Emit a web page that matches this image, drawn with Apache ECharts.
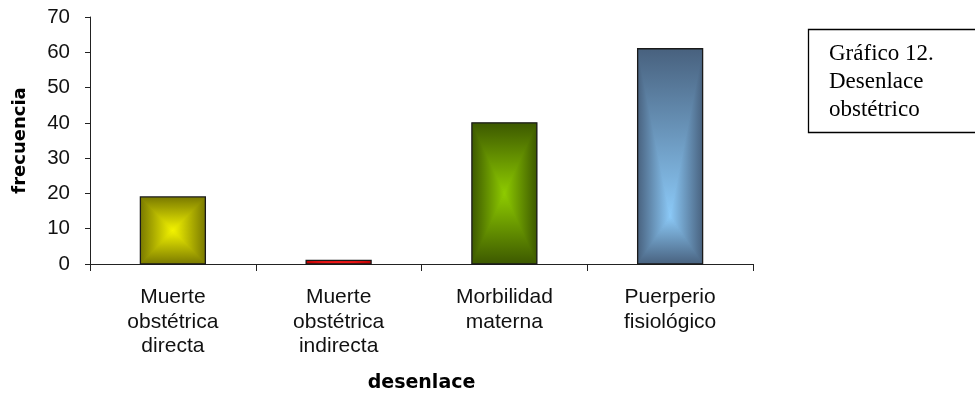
<!DOCTYPE html>
<html>
<head>
<meta charset="utf-8">
<script src="https://cdn.jsdelivr.net/npm/echarts@6/dist/echarts.min.js"></script>
<style>
  html, body { margin: 0; padding: 0; background: #fff; }
  #chart { width: 975px; height: 395px; }
</style>
</head>
<body>
<div id="chart"></div>
<script>
// Outcome categories and their frequencies
const categories = [
  'Muerte\nobstétrica\ndirecta',
  'Muerte\nobstétrica\nindirecta',
  'Morbilidad\nmaterna',
  'Puerperio\nfisiológico'
];
const frecuencia = [19, 1, 40, 61];

// Bar shading: colour at the bright focus and at the rim, plus where the focus sits (fraction of height)
const barCenter = ['#f6f600', '#ff2020', '#8fcc00', '#8ccaf8'];
const barEdge   = ['#787800', '#c00000', '#3c5800', '#48617e'];
const barFocus  = [0.5, 0.5, 0.5, 0.78];

const BAR_RATIO = 0.392;   // bar width as a share of the category band

function lin(x0, y0, x1, y1, c0, c1) {
  return new echarts.graphic.LinearGradient(x0, y0, x1, y1, [
    { offset: 0, color: c0 },
    { offset: 1, color: c1 }
  ]);
}

function tri(points, grad) {
  // the thin stroke of the same gradient closes the hairline seams between triangles
  return { type: 'polygon', shape: { points }, style: { fill: grad, stroke: grad, lineWidth: 1 } };
}

// Each bar is four triangles meeting at the focus point, giving a box-shaped gradient
function renderBar(params, api) {
  const i = api.value(0);
  const v = api.value(1);
  const topPt = api.coord([i, v]);
  const basePt = api.coord([i, 0]);
  const w = api.size([1, 0])[0] * BAR_RATIO;
  const x = topPt[0] - w / 2;
  const y = topPt[1];
  const h = basePt[1] - topPt[1];
  const cx = x + w / 2;
  const cy = y + h * barFocus[i];
  const cE = barEdge[i], cC = barCenter[i];
  return {
    type: 'group',
    clipPath: { type: 'rect', shape: { x, y, width: w, height: h } },
    children: [
      { type: 'rect', shape: { x, y, width: w, height: h }, style: { fill: cE } },
      tri([[x, y], [cx, cy], [x, y + h]], lin(0, 0, 1, 0, cE, cC)),
      tri([[x + w, y], [cx, cy], [x + w, y + h]], lin(0, 0, 1, 0, cC, cE)),
      tri([[x, y], [x + w, y], [cx, cy]], lin(0, 0, 0, 1, cE, cC)),
      tri([[x, y + h], [x + w, y + h], [cx, cy]], lin(0, 0, 0, 1, cC, cE))
    ]
  };
}

// Outline drawn on top of the shaded body
function renderOutline(params, api) {
  const i = api.value(0);
  const v = api.value(1);
  const topPt = api.coord([i, v]);
  const basePt = api.coord([i, 0]);
  const w = api.size([1, 0])[0] * BAR_RATIO;
  return {
    type: 'rect',
    shape: { x: topPt[0] - w / 2, y: topPt[1], width: w, height: basePt[1] - topPt[1] },
    style: { fill: 'none', stroke: '#1a1a1a', lineWidth: 1.3 }
  };
}

const chart = echarts.init(document.getElementById('chart'), null, { renderer: 'canvas' });

const labelFont = '"Liberation Sans", Arial, sans-serif';
const nameFont = '"DejaVu Sans", Verdana, sans-serif';
const barData = frecuencia.map((v, i) => [i, v]);

chart.setOption({
  animation: false,
  backgroundColor: '#ffffff',
  grid: { left: 90, right: 222, top: 17, bottom: 131, containLabel: false, outerBoundsMode: 'none' },
  xAxis: {
    type: 'category',
    data: categories,
    name: 'desenlace',
    nameLocation: 'middle',
    nameGap: 110,
    nameTextStyle: { fontFamily: nameFont, fontWeight: 'bold', fontSize: 19, color: '#000' },
    axisLine: { lineStyle: { color: '#222', width: 1 } },
    axisTick: { show: true, length: 7, lineStyle: { color: '#222' } },
    axisLabel: {
      interval: 0, margin: 21, fontFamily: labelFont, fontSize: 21, color: '#111', lineHeight: 24.5
    }
  },
  yAxis: {
    type: 'value',
    min: 0, max: 70, interval: 10,
    name: 'frecuencia',
    nameLocation: 'middle',
    nameGap: 61,
    nameRotate: 90,
    nameTextStyle: { fontFamily: nameFont, fontWeight: 'bold', fontSize: 18, color: '#000' },
    axisLine: { show: true, lineStyle: { color: '#222', width: 1 } },
    axisTick: { show: true, length: 5, lineStyle: { color: '#222' } },
    splitLine: { show: false },
    axisLabel: { margin: 20, fontFamily: labelFont, fontSize: 20.5, color: '#111' }
  },
  series: [
    { type: 'custom', renderItem: renderBar, encode: { x: 0, y: 1 }, data: barData, z: 2 },
    { type: 'custom', renderItem: renderOutline, encode: { x: 0, y: 1 }, data: barData, z: 3 }
  ],
  graphic: [
    {
      type: 'rect',
      shape: { x: 808.5, y: 29.5, width: 200, height: 103 },
      style: { fill: '#fff', stroke: '#000', lineWidth: 1.3 },
      z: 10
    },
    {
      type: 'text',
      x: 829, y: 40,
      style: {
        text: 'Gráfico 12.\nDesenlace\nobstétrico',
        font: '23px "Liberation Serif", "Times New Roman", serif',
        fill: '#000',
        lineHeight: 28,
        verticalAlign: 'top'
      },
      z: 11
    }
  ]
});
</script>
</body>
</html>
